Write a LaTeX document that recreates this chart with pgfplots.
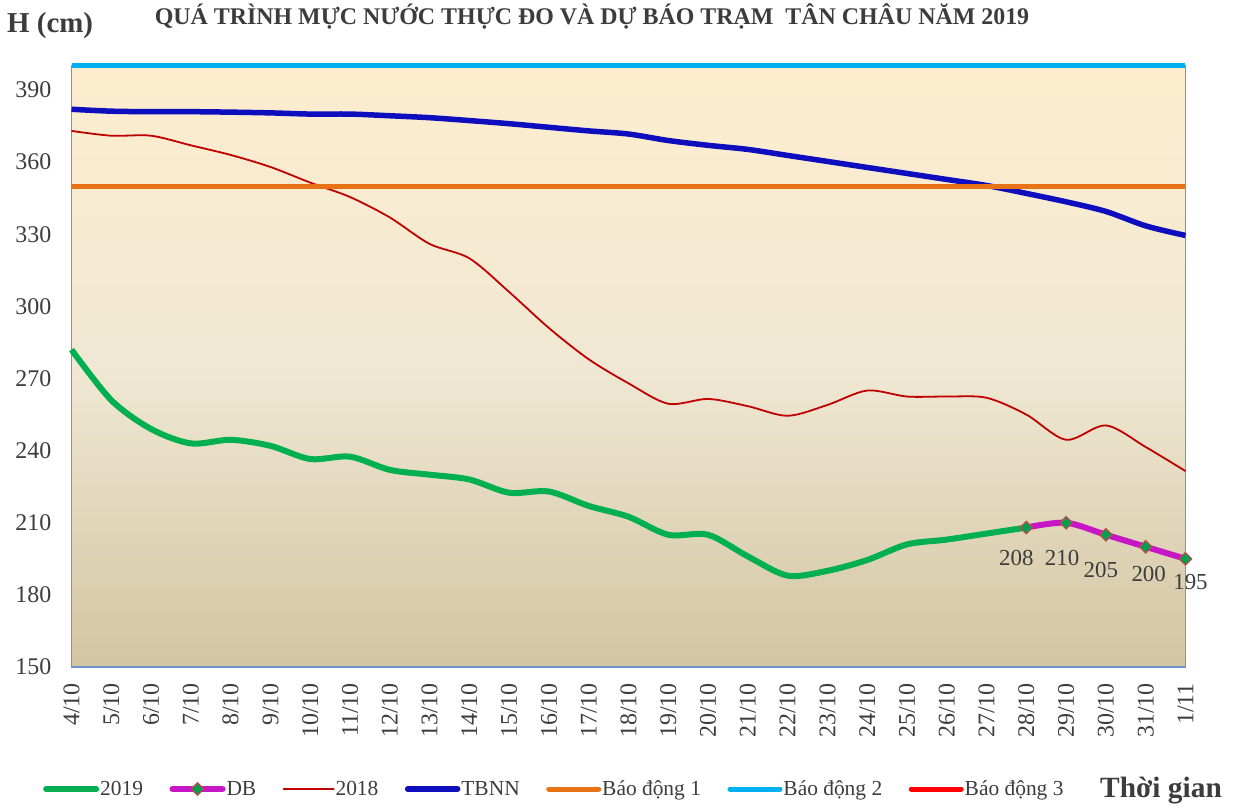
\documentclass[border=0pt]{standalone}
\usepackage{pgfplots}
\usepackage{pgfplotstable}
\pgfplotsset{compat=1.18}
\usepackage{fontspec}
\setmainfont{Liberation Serif}
\definecolor{c2019}{RGB}{0,176,80}
\definecolor{cDB}{RGB}{198,22,198}
\definecolor{c2018}{RGB}{192,0,0}
\definecolor{cTB}{RGB}{14,14,190}
\definecolor{cBDa}{RGB}{232,115,22}
\definecolor{cBDb}{RGB}{0,176,240}
\definecolor{cBDc}{RGB}{255,0,0}
\definecolor{bgtop}{RGB}{253,237,206}
\definecolor{bgmid}{RGB}{240,232,212}
\definecolor{bgbot}{RGB}{210,197,162}
\definecolor{txt}{RGB}{60,60,60}
\definecolor{mkfill}{RGB}{0,160,80}
\definecolor{mkdraw}{RGB}{190,75,72}
\definecolor{frameL}{RGB}{110,150,205}
\definecolor{frameB}{RGB}{185,200,225}

\pgfplotstableread{
x y
0 282
1 261
2 249
3 243
4 244.5
5 242
6 236.5
7 237.5
8 232
9 230
10 228
11 222.5
12 223
13 217
14 212.5
15 205
16 205
17 196
18 188
19 190
20 194.5
21 201
22 203
23 205.5
24 208
}\tblA

\pgfplotstableread{
x y
24 208
25 210
26 205
27 200
28 195
}\tblDB

\pgfplotstableread{
x y
0 373
1 371
2 371
3 367
4 363
5 358
6 351.5
7 345.5
8 337
9 326
10 320
11 306
12 291
13 278
14 268
15 259.5
16 261.5
17 258.5
18 254.5
19 259
20 265
21 262.5
22 262.5
23 262
24 255
25 244.5
26 250.5
27 241.5
28 231.5
}\tblB

\pgfplotstableread{
x y
0 382
1 381.2
2 381
3 381
4 380.8
5 380.5
6 380
7 380
8 379.3
9 378.5
10 377.3
11 376
12 374.5
13 373
14 371.7
15 369
16 367
17 365.3
18 362.8
19 360.3
20 357.8
21 355.3
22 352.8
23 350.3
24 347
25 343.5
26 339.5
27 333.5
28 329.5
}\tblC

\pgfplotsset{dblabel/.style={forget plot, draw=none, mark=none,
  nodes near coords, point meta=y,
  nodes near coords style={font=\fontsize{23}{27}\selectfont, text=txt, anchor=center, /pgf/number format/assume math mode=true}}}

\begin{document}
\begin{tikzpicture}
\useasboundingbox (0,0) rectangle (1240bp,809bp);
\begin{axis}[
  at={(71.5bp,142bp)}, anchor=south west,
  scale only axis, width=1114bp, height=601bp,
  xmin=0, xmax=28, ymin=150, ymax=400,
  clip=false,
  axis background/.style={top color=bgtop, bottom color=bgbot, middle color=bgmid},
  x axis line style={draw=frameB, line width=1.5bp},
  y axis line style={draw=frameL, line width=1.5bp},
  xtick={0,...,28},
  xticklabels={4/10,5/10,6/10,7/10,8/10,9/10,10/10,11/10,12/10,13/10,14/10,15/10,16/10,17/10,18/10,19/10,20/10,21/10,22/10,23/10,24/10,25/10,26/10,27/10,28/10,29/10,30/10,31/10,1/11},
  ytick={150,180,...,390},
  major tick length=0pt,
  /pgf/number format/assume math mode=true,
  tick label style={font=\fontsize{24}{28}\selectfont, text=txt, inner sep=0pt},
  xticklabel style={rotate=90, anchor=east},
  yticklabel style={anchor=east},
  xticklabel shift=16bp,
  yticklabel shift=20bp,
  legend columns=7,
  legend style={at={(axis description cs:-0.0256,-0.203)}, anchor=west,
    draw=none, fill=none, inner sep=0pt,
    font=\fontsize{21.5}{25}\selectfont, text=txt,
    nodes={inner sep=1bp},
    /tikz/every even column/.append style={column sep=25.5bp}},
  legend image code/.code={\draw[mark repeat=2,mark phase=2,line cap=round,#1] plot coordinates {(3bp,0bp) (28bp,0bp) (53bp,0bp)};},
]
\addplot[c2019, line width=6bp, smooth, mark=none] table[x=x,y=y]{\tblA};
\addlegendentry{2019}
\addplot[cDB, line width=6bp, smooth, mark=square*,
  mark options={rotate=45, fill=mkfill, draw=mkdraw, line width=1.2bp, solid},
  mark size=4.4bp] table[x=x,y=y]{\tblDB};
\addlegendentry{DB}
\addplot[c2018, line width=1.8bp, smooth, mark=none] table[x=x,y=y]{\tblB};
\addlegendentry{2018}
\addplot[cTB, line width=5.5bp, smooth, mark=none] table[x=x,y=y]{\tblC};
\addlegendentry{TBNN}
\addplot[cBDa, line width=5bp, mark=none] coordinates {(0,350) (28,350)};
\addlegendentry{Báo động 1}
\addplot[cBDb, line width=5bp, mark=none] coordinates {(0,400) (28,400)};
\addlegendentry{Báo động 2}
\addlegendimage{cBDc, line width=5bp, mark=none}
\addlegendentry{Báo động 3}
\addplot[dblabel, nodes near coords style={xshift=-10bp, yshift=-30bp}] coordinates {(24,208)};
\addplot[dblabel, nodes near coords style={xshift=-4bp, yshift=-35bp}] coordinates {(25,210)};
\addplot[dblabel, nodes near coords style={xshift=-5bp, yshift=-35bp}] coordinates {(26,205)};
\addplot[dblabel, nodes near coords style={xshift=3bp, yshift=-27bp}] coordinates {(27,200)};
\addplot[dblabel, nodes near coords style={xshift=5bp, yshift=-23bp}] coordinates {(28,195)};
\end{axis}
\node[anchor=base, font=\bfseries\fontsize{24}{28}\selectfont, text=txt] at (592bp,784bp) {QUÁ TRÌNH MỰC NƯỚC THỰC ĐO VÀ DỰ BÁO TRẠM\ \ TÂN CHÂU NĂM 2019};
\node[anchor=base west, inner sep=0pt, font=\bfseries\fontsize{29}{33}\selectfont, text=txt] at (7bp,776bp) {H (cm)};
\node[anchor=base west, inner sep=0pt, font=\bfseries\fontsize{29.5}{33}\selectfont, text=txt] at (1100bp,12bp) {Thời gian};
\end{tikzpicture}
\end{document}
